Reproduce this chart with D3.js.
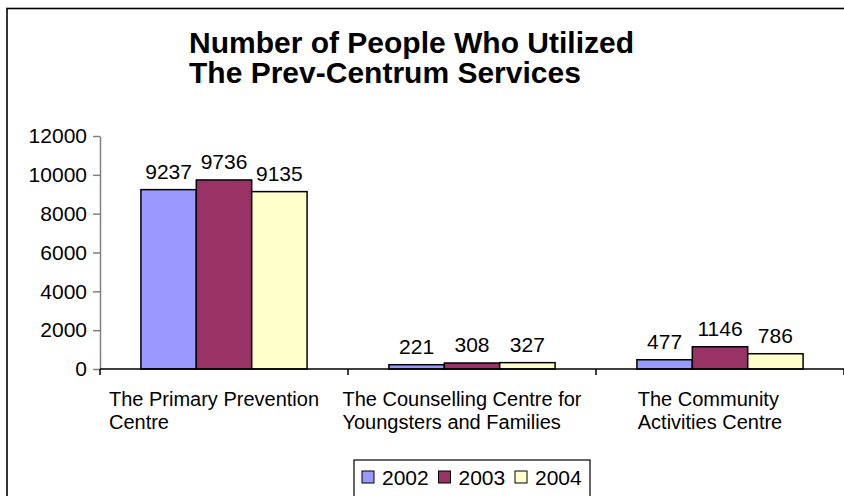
<!DOCTYPE html>
<html><head><meta charset="utf-8">
<script src="https://cdn.jsdelivr.net/npm/d3@7"></script>
<style>
html,body{margin:0;padding:0;background:#fff;}
svg{display:block;font-family:"Liberation Sans",Arial,sans-serif;}
</style></head>
<body>
<svg id="chart" width="844" height="496"></svg>
<script>
const titleLines = ["Number of People Who Utilized", "The Prev-Centrum Services"];
const categories = [
  ["The Primary Prevention", "Centre"],
  ["The Counselling Centre for", "Youngsters and Families"],
  ["The Community", "Activities Centre"]
];
const years = ["2002", "2003", "2004"];
const values2002 = [9237, 221, 477];
const values2003 = [9736, 308, 1146];
const values2004 = [9135, 327, 786];
const yTicks = [0, 2000, 4000, 6000, 8000, 10000, 12000];
const colors = ["#9999FF", "#993366", "#FFFFCC"];

const series = [values2002, values2003, values2004];
const svg = d3.select("#chart");

// outer frame (extends beyond the picture on right/bottom)
svg.append("rect").attr("x", 7).attr("y", 8.5).attr("width", 900).attr("height", 600)
  .attr("fill", "none").attr("stroke", "#000").attr("stroke-width", 1.6);

// title
svg.append("g").selectAll("text").data(titleLines).join("text")
  .attr("x", 189).attr("y", (d, i) => 53 + i * 30)
  .attr("font-size", 30).attr("font-weight", "bold").attr("fill", "#000")
  .text(d => d);

const x0 = d3.scaleBand().domain(d3.range(categories.length)).range([100, 844]).paddingInner(0).paddingOuter(0);
const groupW = x0.bandwidth() * 0.67;
const x1 = d3.scaleBand().domain(d3.range(years.length)).range([0, groupW]);
const y = d3.scaleLinear().domain([0, 12000]).range([369, 136]);

// y axis
const yAxis = d3.axisLeft(y).tickValues(yTicks).tickFormat(d3.format("d"))
  .tickSize(7).tickPadding(6).tickSizeOuter(0);
const gy = svg.append("g").attr("transform", "translate(100,0)").call(yAxis);
gy.select(".domain").attr("stroke", "#808080").attr("stroke-width", 1.5);
gy.selectAll(".tick line").attr("stroke", "#808080").attr("stroke-width", 1.5);
gy.selectAll(".tick text").attr("font-size", 21).attr("fill", "#000")
  .attr("font-family", "Liberation Sans, Arial, sans-serif");

// bars
const groups = svg.append("g").selectAll("g").data(categories).join("g")
  .attr("transform", (d, i) => `translate(${x0(i) + (x0.bandwidth() - groupW) / 2},0)`);

groups.selectAll("rect").data((d, i) => series.map((s, k) => ({ k, v: s[i] }))).join("rect")
  .attr("x", d => x1(d.k)).attr("width", x1.bandwidth())
  .attr("y", d => y(d.v)).attr("height", d => y(0) - y(d.v))
  .attr("fill", d => colors[d.k]).attr("stroke", "#000").attr("stroke-width", 1.5);

groups.selectAll("text.val").data((d, i) => series.map((s, k) => ({ k, v: s[i] }))).join("text")
  .attr("class", "val")
  .attr("x", d => x1(d.k) + x1.bandwidth() / 2).attr("y", d => y(d.v) - 11)
  .attr("text-anchor", "middle").attr("font-size", 21).attr("fill", "#000")
  .text(d => d.v);

// x axis
const gx = svg.append("g");
gx.append("line").attr("x1", 100).attr("x2", 844).attr("y1", y(0)).attr("y2", y(0))
  .attr("stroke", "#000").attr("stroke-width", 1.5);
const bounds = d3.range(categories.length + 1).map(i => i < categories.length ? x0(i) : x0(i - 1) + x0.bandwidth());
gx.selectAll("line.tk").data(bounds).join("line").attr("class", "tk")
  .attr("x1", d => d).attr("x2", d => d).attr("y1", y(0)).attr("y2", y(0) + 6)
  .attr("stroke", "#000").attr("stroke-width", 1.5);

// category labels: left-aligned block, roughly centred under each band
const catG = svg.append("g").selectAll("g").data(categories).join("g");
catG.each(function (lines, i) {
  const g = d3.select(this);
  const t = g.selectAll("text").data(lines).join("text")
    .attr("y", (d, j) => 406 + j * 22.5).attr("font-size", 20).attr("fill", "#000").text(d => d);
  let w = 0;
  t.each(function () { w = Math.max(w, this.getComputedTextLength()); });
  const cx = x0(i) + x0.bandwidth() / 2 - 10;
  t.attr("x", cx - w / 2);
});

// legend
const leg = svg.append("g");
leg.append("rect").attr("x", 354).attr("y", 460).attr("width", 236).attr("height", 60)
  .attr("fill", "#fff").attr("stroke", "#000").attr("stroke-width", 1.2);
const li = leg.selectAll("g").data(years).join("g")
  .attr("transform", (d, i) => `translate(${362 + i * 76.5},0)`);
li.append("rect").attr("x", 0).attr("y", 471).attr("width", 12).attr("height", 12)
  .attr("fill", (d, i) => colors[i]).attr("stroke", "#000").attr("stroke-width", 1);
li.append("text").attr("x", 20).attr("y", 485).attr("font-size", 21).attr("fill", "#000").text(d => d);
</script>
</body></html>
